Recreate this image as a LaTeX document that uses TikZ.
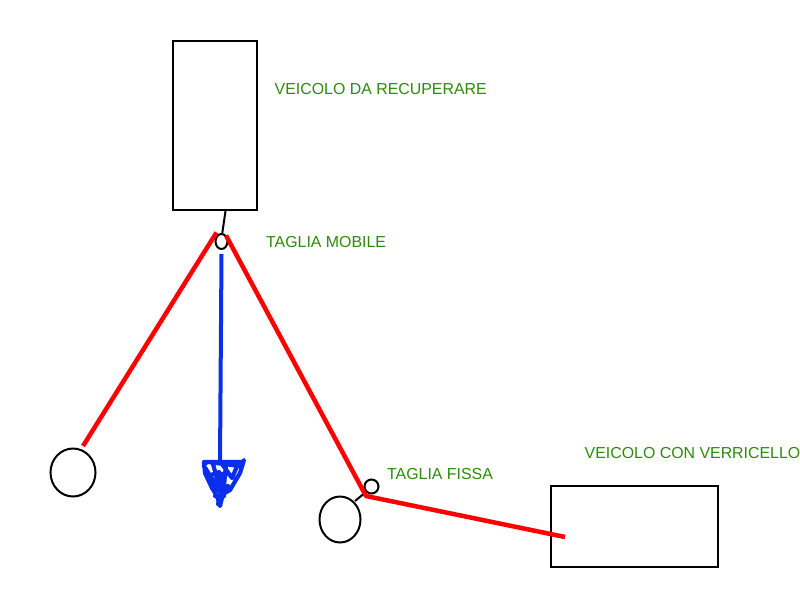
\documentclass[tikz,border=0pt]{standalone}
\usepackage{fontspec}
\setmainfont{Liberation Sans}
\definecolor{lbl}{HTML}{2E8B0A}
\definecolor{rope}{HTML}{FF0000}
\definecolor{tow}{HTML}{0A2EEE}
\tikzset{
  thin box/.style={draw=black,line width=2pt,fill=none,inner sep=0pt},
  label text/.style={text=lbl,font=\fontsize{15.9}{18}\selectfont,inner sep=0pt,anchor=west},
  ring/.style={draw=black,line width=2pt,fill=white,ellipse,inner sep=0pt},
  red line/.style={draw=rope,line width=4.5pt,line join=round},
  link/.style={draw=black,line width=2pt},
  blue line/.style={draw=tow,line width=4pt}
}
\usetikzlibrary{shapes.geometric}
\begin{document}
\begin{tikzpicture}[x=1pt,y=-1pt]
\useasboundingbox (0,0) rectangle (800,600);
\fill[white] (0,0) rectangle (800,600);
\node[thin box,minimum width=84pt,minimum height=169pt] (veh1) at (215,125.5) {};
\node[thin box,minimum width=167pt,minimum height=81pt] (veh2) at (634.5,526.5) {};
\coordinate (a1) at (225.5,211);
\coordinate (a2) at (222,235);
\draw[link] (a1) -- (a2);
\coordinate (p1) at (355,501);
\coordinate (p2) at (366,492);
\draw[link] (p1) -- (p2);
\node[ring,minimum width=12pt,minimum height=15pt] (mob) at (221.5,241.5) {};
\node[ring,minimum width=14pt,minimum height=14pt] (fix) at (371.5,486.5) {};
\node[ring,minimum width=45pt,minimum height=48pt] (w1) at (73,472.5) {};
\node[ring,minimum width=41pt,minimum height=46pt] (w2) at (340,519.5) {};
\coordinate (r1) at (83,446);
\coordinate (r2) at (216.5,232.5);
\coordinate (r3) at (226,235.5);
\coordinate (r4) at (366,496);
\coordinate (r5) at (565,537);
\draw[red line] (r1) -- (r2);
\draw[red line] (r3) -- (r4) -- (r5);
\coordinate (b1) at (221.5,254);
\coordinate (b2) at (220,462);
\draw[blue line] (b1) -- (b2);
\draw[tow,line width=4.2pt,line cap=round,line join=round]
 (204,462) -- (243,462) -- (244,460) -- (240,473) -- (230,490) -- (223,494) -- (220,506) -- (217,496) -- (212,488) -- (205,473) -- (204,462)
 (204,466) -- (214,482) -- (220,492) -- (228,486)
 (213,464) -- (218,482) -- (224,486) -- (226,464)
 (222,464) -- (232,478) -- (238,464)
 (213,474) -- (226,474) -- (217,490) -- (212,478)
 (219,472) -- (222,490) -- (218,504)
 (215,496) -- (224,496)
 (204,464) -- (208,462) -- (240,466);
\node[label text] (t1) at (274.5,89.2) {VEICOLO DA RECUPERARE};
\node[label text] (t2) at (266,242.2) {TAGLIA MOBILE};
\node[label text] (t3) at (387,474.2) {TAGLIA FISSA};
\node[label text] (t4) at (584.5,453.2) {VEICOLO CON VERRICELLO};
\end{tikzpicture}
\end{document}
